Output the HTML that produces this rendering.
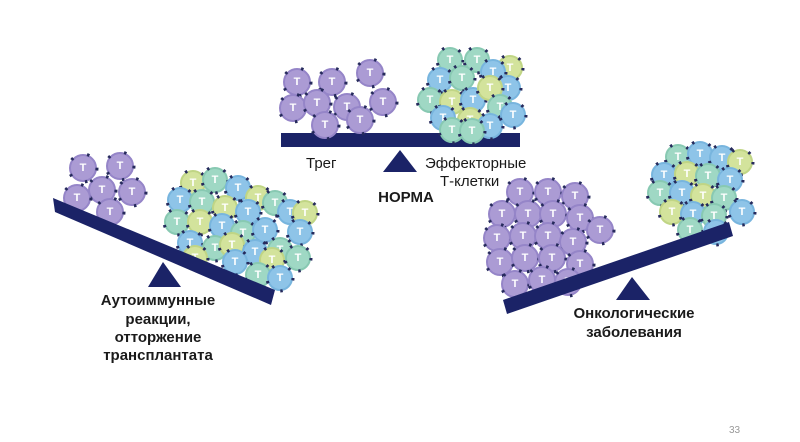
<!DOCTYPE html>
<html><head><meta charset="utf-8"><style>
body{margin:0;background:#fff;width:800px;height:442px;overflow:hidden}
svg{display:block}
.p{fill:#ab9bd4;stroke:#9585c8;stroke-width:2}
.b{fill:#8ec4e8;stroke:#78b5de;stroke-width:2}
.g{fill:#9fd8c4;stroke:#88c9b2;stroke-width:2}
.y{fill:#d3e39c;stroke:#c0d585;stroke-width:2}
.d{fill:none;stroke:#262a5c;stroke-width:3;stroke-dasharray:2.5 15}
text.t{fill:#fff;font:bold 11px "Liberation Sans",sans-serif;text-anchor:middle;dominant-baseline:central}
.lb{font:15px "Liberation Sans",sans-serif;fill:#1a1a1a}
.bd{font:bold 15px "Liberation Sans",sans-serif;fill:#1a1a1a;text-anchor:middle}
</style></head><body>
<svg width="800" height="442" viewBox="0 0 800 442">
<defs>
<g id="dp"><circle r="13" class="p"/><circle r="14" class="d"/></g>
<g id="db"><circle r="12" class="b"/><circle r="13" class="d"/></g>
<g id="dg"><circle r="12" class="g"/><circle r="13" class="d"/></g>
<g id="dy"><circle r="12" class="y"/><circle r="13" class="d"/></g>
</defs>
<!-- center -->
<rect x="281" y="133" width="239" height="14" fill="#1b2367"/>
<polygon points="400,150 383,172 417,172" fill="#1b2367"/>
<g>
<g transform="translate(297,82)"><use href="#dp"/><text class="t">T</text></g>
<g transform="translate(332,82)"><use href="#dp"/><text class="t">T</text></g>
<g transform="translate(370,73)"><use href="#dp"/><text class="t">T</text></g>
<g transform="translate(293,108)"><use href="#dp"/><text class="t">T</text></g>
<g transform="translate(317,103)"><use href="#dp"/><text class="t">T</text></g>
<g transform="translate(347,107)"><use href="#dp"/><text class="t">T</text></g>
<g transform="translate(383,102)"><use href="#dp"/><text class="t">T</text></g>
<g transform="translate(325,125)"><use href="#dp"/><text class="t">T</text></g>
<g transform="translate(360,120)"><use href="#dp"/><text class="t">T</text></g>
</g>
<g>
<g transform="translate(450,60)"><use href="#dg"/><text class="t">T</text></g>
<g transform="translate(477,60)"><use href="#dg"/><text class="t">T</text></g>
<g transform="translate(510,68)"><use href="#dy"/><text class="t">T</text></g>
<g transform="translate(440,80)"><use href="#db"/><text class="t">T</text></g>
<g transform="translate(462,78)"><use href="#dg"/><text class="t">T</text></g>
<g transform="translate(493,72)"><use href="#db"/><text class="t">T</text></g>
<g transform="translate(508,88)"><use href="#db"/><text class="t">T</text></g>
<g transform="translate(430,100)"><use href="#dg"/><text class="t">T</text></g>
<g transform="translate(452,102)"><use href="#dy"/><text class="t">T</text></g>
<g transform="translate(473,100)"><use href="#db"/><text class="t">T</text></g>
<g transform="translate(490,88)"><use href="#dy"/><text class="t">T</text></g>
<g transform="translate(500,107)"><use href="#dg"/><text class="t">T</text></g>
<g transform="translate(443,118)"><use href="#db"/><text class="t">T</text></g>
<g transform="translate(470,120)"><use href="#dy"/><text class="t">T</text></g>
<g transform="translate(490,126)"><use href="#db"/><text class="t">T</text></g>
<g transform="translate(513,115)"><use href="#db"/><text class="t">T</text></g>
<g transform="translate(452,130)"><use href="#dg"/><text class="t">T</text></g>
<g transform="translate(472,131)"><use href="#dg"/><text class="t">T</text></g>
</g>
<text class="lb" x="306" y="168">Трег</text>
<text class="lb" x="425" y="168">Эффекторные</text>
<text class="lb" x="440" y="186">Т-клетки</text>
<text class="bd" x="406" y="202">НОРМА</text>
<!-- left -->
<g>
<g transform="translate(83,168)"><use href="#dp"/><text class="t">T</text></g>
<g transform="translate(120,166)"><use href="#dp"/><text class="t">T</text></g>
<g transform="translate(102,190)"><use href="#dp"/><text class="t">T</text></g>
<g transform="translate(132,192)"><use href="#dp"/><text class="t">T</text></g>
<g transform="translate(77,198)"><use href="#dp"/><text class="t">T</text></g>
<g transform="translate(110,212)"><use href="#dp"/><text class="t">T</text></g>
</g>
<g>
<g transform="translate(193,183)"><use href="#dy"/><text class="t">T</text></g>
<g transform="translate(215,180)"><use href="#dg"/><text class="t">T</text></g>
<g transform="translate(238,188)"><use href="#db"/><text class="t">T</text></g>
<g transform="translate(258,198)"><use href="#dy"/><text class="t">T</text></g>
<g transform="translate(275,203)"><use href="#dg"/><text class="t">T</text></g>
<g transform="translate(180,200)"><use href="#db"/><text class="t">T</text></g>
<g transform="translate(202,202)"><use href="#dg"/><text class="t">T</text></g>
<g transform="translate(225,208)"><use href="#dy"/><text class="t">T</text></g>
<g transform="translate(248,212)"><use href="#db"/><text class="t">T</text></g>
<g transform="translate(290,212)"><use href="#db"/><text class="t">T</text></g>
<g transform="translate(305,213)"><use href="#dy"/><text class="t">T</text></g>
<g transform="translate(177,222)"><use href="#dg"/><text class="t">T</text></g>
<g transform="translate(200,222)"><use href="#dy"/><text class="t">T</text></g>
<g transform="translate(222,226)"><use href="#db"/><text class="t">T</text></g>
<g transform="translate(243,233)"><use href="#dg"/><text class="t">T</text></g>
<g transform="translate(265,230)"><use href="#db"/><text class="t">T</text></g>
<g transform="translate(300,232)"><use href="#db"/><text class="t">T</text></g>
<g transform="translate(190,243)"><use href="#db"/><text class="t">T</text></g>
<g transform="translate(215,248)"><use href="#dg"/><text class="t">T</text></g>
<g transform="translate(232,245)"><use href="#dy"/><text class="t">T</text></g>
<g transform="translate(255,252)"><use href="#db"/><text class="t">T</text></g>
<g transform="translate(280,250)"><use href="#dg"/><text class="t">T</text></g>
<g transform="translate(195,258)"><use href="#dy"/><text class="t">T</text></g>
<g transform="translate(235,262)"><use href="#db"/><text class="t">T</text></g>
<g transform="translate(272,260)"><use href="#dy"/><text class="t">T</text></g>
<g transform="translate(298,258)"><use href="#dg"/><text class="t">T</text></g>
<g transform="translate(258,275)"><use href="#dg"/><text class="t">T</text></g>
<g transform="translate(280,278)"><use href="#db"/><text class="t">T</text></g>
</g>
<polygon points="53,198 275,290 271,305 55,212" fill="#1b2367"/>
<polygon points="163,262 148,287 181,287" fill="#1b2367"/>
<text class="bd" x="158" y="305">Аутоиммунные</text>
<text class="bd" x="158" y="324">реакции,</text>
<text class="bd" x="158" y="342">отторжение</text>
<text class="bd" x="158" y="360">трансплантата</text>
<!-- right -->
<g>
<g transform="translate(520,192)"><use href="#dp"/><text class="t">T</text></g>
<g transform="translate(548,192)"><use href="#dp"/><text class="t">T</text></g>
<g transform="translate(575,196)"><use href="#dp"/><text class="t">T</text></g>
<g transform="translate(502,214)"><use href="#dp"/><text class="t">T</text></g>
<g transform="translate(528,214)"><use href="#dp"/><text class="t">T</text></g>
<g transform="translate(553,214)"><use href="#dp"/><text class="t">T</text></g>
<g transform="translate(580,218)"><use href="#dp"/><text class="t">T</text></g>
<g transform="translate(600,230)"><use href="#dp"/><text class="t">T</text></g>
<g transform="translate(497,238)"><use href="#dp"/><text class="t">T</text></g>
<g transform="translate(523,236)"><use href="#dp"/><text class="t">T</text></g>
<g transform="translate(548,236)"><use href="#dp"/><text class="t">T</text></g>
<g transform="translate(573,242)"><use href="#dp"/><text class="t">T</text></g>
<g transform="translate(500,262)"><use href="#dp"/><text class="t">T</text></g>
<g transform="translate(525,258)"><use href="#dp"/><text class="t">T</text></g>
<g transform="translate(552,258)"><use href="#dp"/><text class="t">T</text></g>
<g transform="translate(580,264)"><use href="#dp"/><text class="t">T</text></g>
<g transform="translate(515,284)"><use href="#dp"/><text class="t">T</text></g>
<g transform="translate(542,280)"><use href="#dp"/><text class="t">T</text></g>
<g transform="translate(568,282)"><use href="#dp"/><text class="t">T</text></g>
</g>
<g>
<g transform="translate(678,157)"><use href="#dg"/><text class="t">T</text></g>
<g transform="translate(700,154)"><use href="#db"/><text class="t">T</text></g>
<g transform="translate(722,158)"><use href="#db"/><text class="t">T</text></g>
<g transform="translate(740,162)"><use href="#dy"/><text class="t">T</text></g>
<g transform="translate(664,175)"><use href="#db"/><text class="t">T</text></g>
<g transform="translate(687,174)"><use href="#dy"/><text class="t">T</text></g>
<g transform="translate(708,176)"><use href="#dg"/><text class="t">T</text></g>
<g transform="translate(730,180)"><use href="#db"/><text class="t">T</text></g>
<g transform="translate(660,193)"><use href="#dg"/><text class="t">T</text></g>
<g transform="translate(682,193)"><use href="#db"/><text class="t">T</text></g>
<g transform="translate(703,196)"><use href="#dy"/><text class="t">T</text></g>
<g transform="translate(724,198)"><use href="#dg"/><text class="t">T</text></g>
<g transform="translate(742,212)"><use href="#db"/><text class="t">T</text></g>
<g transform="translate(672,212)"><use href="#dy"/><text class="t">T</text></g>
<g transform="translate(693,214)"><use href="#db"/><text class="t">T</text></g>
<g transform="translate(714,216)"><use href="#dg"/><text class="t">T</text></g>
<g transform="translate(690,230)"><use href="#dg"/><text class="t">T</text></g>
<g transform="translate(716,232)"><use href="#db"/><text class="t">T</text></g>
</g>
<polygon points="503,300 729,222 733,236 507,314" fill="#1b2367"/>
<polygon points="632,277 616,300 650,300" fill="#1b2367"/>
<text class="bd" x="634" y="318">Онкологические</text>
<text class="bd" x="634" y="337">заболевания</text>
<text x="729" y="433" style="font:10px 'Liberation Sans',sans-serif;fill:#999">33</text>
</svg>
</body></html>
